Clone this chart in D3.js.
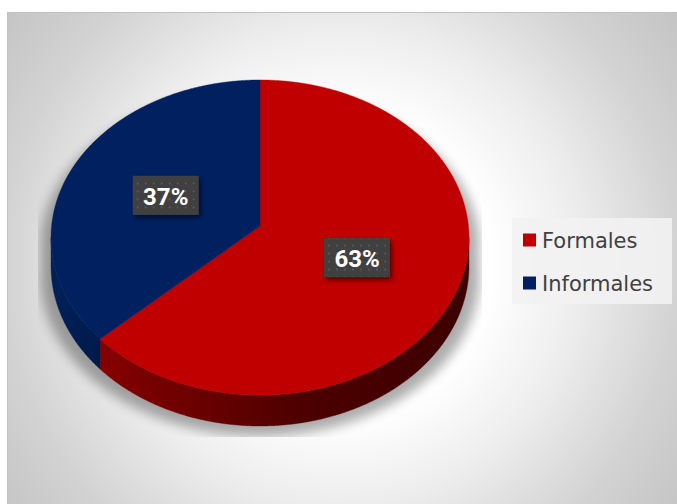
<!DOCTYPE html>
<html>
<head>
<meta charset="utf-8">
<script src="https://cdn.jsdelivr.net/npm/d3@7"></script>
<style>
  html, body { margin: 0; padding: 0; background: #ffffff; }
  svg { display: block; }
</style>
</head>
<body>
<script>
// Share of employment by type
const categories = ["Formales", "Informales"];
const values = [63, 37];

const W = 677, H = 504;
const topColors = ["#c00000", "#002060"];

// Geometry of the tilted disc (perspective projection of a unit circle)
const geo = { cx: 260, cy: 226, A: 208.4, B: 156.7, k: 0.073, depth: 28.7 };

function project(theta, f) {
  const u = Math.sin(theta) * f, v = Math.cos(theta) * f;
  const d = 1 + geo.k * v;
  return [geo.cx + geo.A * u / d, geo.cy - geo.B * v / d];
}
function drop(theta) {
  return geo.depth / (1 + geo.k * Math.cos(theta));
}

const svg = d3.select("body").append("svg")
  .attr("width", W).attr("height", H);

const defs = svg.append("defs");

// Chart-area background
const bg = defs.append("radialGradient").attr("id", "bgGrad")
  .attr("gradientUnits", "userSpaceOnUse")
  .attr("cx", 340).attr("cy", 265).attr("r", 420);
[[0, "#ffffff"], [0.36, "#ffffff"], [0.57, "#ededed"], [0.8, "#d3d3d3"], [1, "#c4c4c4"]]
  .forEach(([o, c]) => bg.append("stop").attr("offset", o).attr("stop-color", c));

// Side-wall shading
const redSide = defs.append("linearGradient").attr("id", "sideRed")
  .attr("gradientUnits", "userSpaceOnUse").attr("x1", 95).attr("x2", 469).attr("y1", 0).attr("y2", 0);
[[0, "#870000"], [0.28, "#6a0000"], [0.55, "#4d0000"], [1, "#3c0000"]]
  .forEach(([o, c]) => redSide.append("stop").attr("offset", o).attr("stop-color", c));
const blueSide = defs.append("linearGradient").attr("id", "sideBlue")
  .attr("gradientUnits", "userSpaceOnUse").attr("x1", 51).attr("x2", 100).attr("y1", 0).attr("y2", 0);
[[0, "#00215a"], [1, "#001a4a"]]
  .forEach(([o, c]) => blueSide.append("stop").attr("offset", o).attr("stop-color", c));
const sideFills = ["url(#sideRed)", "url(#sideBlue)"];

defs.append("filter").attr("id", "pieShadow")
  .attr("x", "-20%").attr("y", "-20%").attr("width", "140%").attr("height", "140%")
  .append("feGaussianBlur").attr("stdDeviation", 6);

defs.append("filter").attr("id", "boxShadow")
  .attr("x", "-30%").attr("y", "-30%").attr("width", "160%").attr("height", "160%")
  .append("feDropShadow").attr("dx", 2).attr("dy", 3).attr("stdDeviation", 2.5)
  .attr("flood-color", "#000").attr("flood-opacity", 0.55);

const dots = defs.append("pattern").attr("id", "dots")
  .attr("patternUnits", "userSpaceOnUse").attr("width", 8).attr("height", 8);
dots.append("rect").attr("width", 8).attr("height", 8).attr("fill", "#404040");
dots.append("circle").attr("cx", 4).attr("cy", 4).attr("r", 1).attr("fill", "#5c5c5c");

defs.append("clipPath").attr("id", "plotClip")
  .append("rect").attr("x", 38).attr("y", 0).attr("width", 444).attr("height", 437);

// Chart area
svg.append("rect")
  .attr("x", 7.5).attr("y", 12.5).attr("width", 720).attr("height", 540)
  .attr("fill", "url(#bgGrad)").attr("stroke", "#c0c0c0").attr("stroke-width", 1);

const pie = d3.pie().sort(null).value(d => d)(values);
const line = d3.line();
const STEP = Math.PI / 720;

function samples(a0, a1) {
  const n = Math.max(2, Math.ceil((a1 - a0) / STEP));
  return d3.range(n + 1).map(i => a0 + (a1 - a0) * i / n);
}

// Soft shadow under the disc
const sil = samples(0, 2 * Math.PI).map(t => {
  const [x, y] = project(t, 1);
  const extra = Math.cos(t) < 0 ? drop(t) : 0;
  return [geo.cx + (x - geo.cx) * 1.05, y + extra + 10];
});
svg.append("g").attr("clip-path", "url(#plotClip)")
  .append("path").attr("d", line(sil) + "Z")
  .attr("fill", "#000").attr("opacity", 0.32).attr("filter", "url(#pieShadow)");

// Side walls (front half only)
const vis0 = Math.acos(-geo.k), vis1 = 2 * Math.PI - Math.acos(-geo.k);
const sides = svg.append("g");
pie.forEach((p, i) => {
  const a0 = Math.max(p.startAngle, vis0), a1 = Math.min(p.endAngle, vis1);
  if (a1 <= a0) return;
  const ts = samples(a0, a1);
  const topEdge = ts.map(t => project(t, 1));
  const botEdge = ts.slice().reverse().map(t => { const [x, y] = project(t, 1); return [x, y + drop(t)]; });
  sides.append("path").attr("d", line(topEdge.concat(botEdge)) + "Z")
    .attr("fill", sideFills[i]).attr("stroke", sideFills[i]).attr("stroke-width", 0.4);
});

// Top faces
const tops = svg.append("g");
pie.forEach((p, i) => {
  const pts = [[geo.cx, geo.cy]].concat(samples(p.startAngle, p.endAngle).map(t => project(t, 1)));
  tops.append("path").attr("d", line(pts) + "Z")
    .attr("fill", topColors[i]).attr("stroke", topColors[i]).attr("stroke-width", 0.4);
});

// Data labels
const bw = 66, bh = 39;
const labels = svg.append("g");
pie.forEach((p, i) => {
  const [x, y] = project((p.startAngle + p.endAngle) / 2, 0.5);
  const g = labels.append("g").attr("transform", `translate(${x},${y})`);
  g.append("rect").attr("x", -bw / 2).attr("y", -bh / 2).attr("width", bw).attr("height", bh)
    .attr("fill", "url(#dots)").attr("filter", "url(#boxShadow)");
  g.append("text").attr("x", 0).attr("y", 9.5).attr("text-anchor", "middle")
    .attr("font-family", "Roboto, 'Open Sans', sans-serif").attr("font-weight", 700)
    .attr("font-size", 24).attr("fill", "#ffffff")
    .text(values[i] + "%");
});

// Legend
const legend = svg.append("g");
legend.append("rect").attr("x", 512).attr("y", 218).attr("width", 160).attr("height", 86)
  .attr("fill", "#f2f2f2").attr("opacity", 0.9);
const legendY = d3.scalePoint().domain(categories).range([240, 283]);
categories.forEach((c, i) => {
  const y = legendY(c);
  legend.append("rect").attr("x", 523).attr("y", y - 6.5).attr("width", 13).attr("height", 13)
    .attr("fill", topColors[i]);
  legend.append("text").attr("x", 542).attr("y", y + 8)
    .attr("font-family", "'DejaVu Sans', sans-serif").attr("font-size", 21)
    .attr("fill", "#404040").text(c);
});
</script>
</body>
</html>
